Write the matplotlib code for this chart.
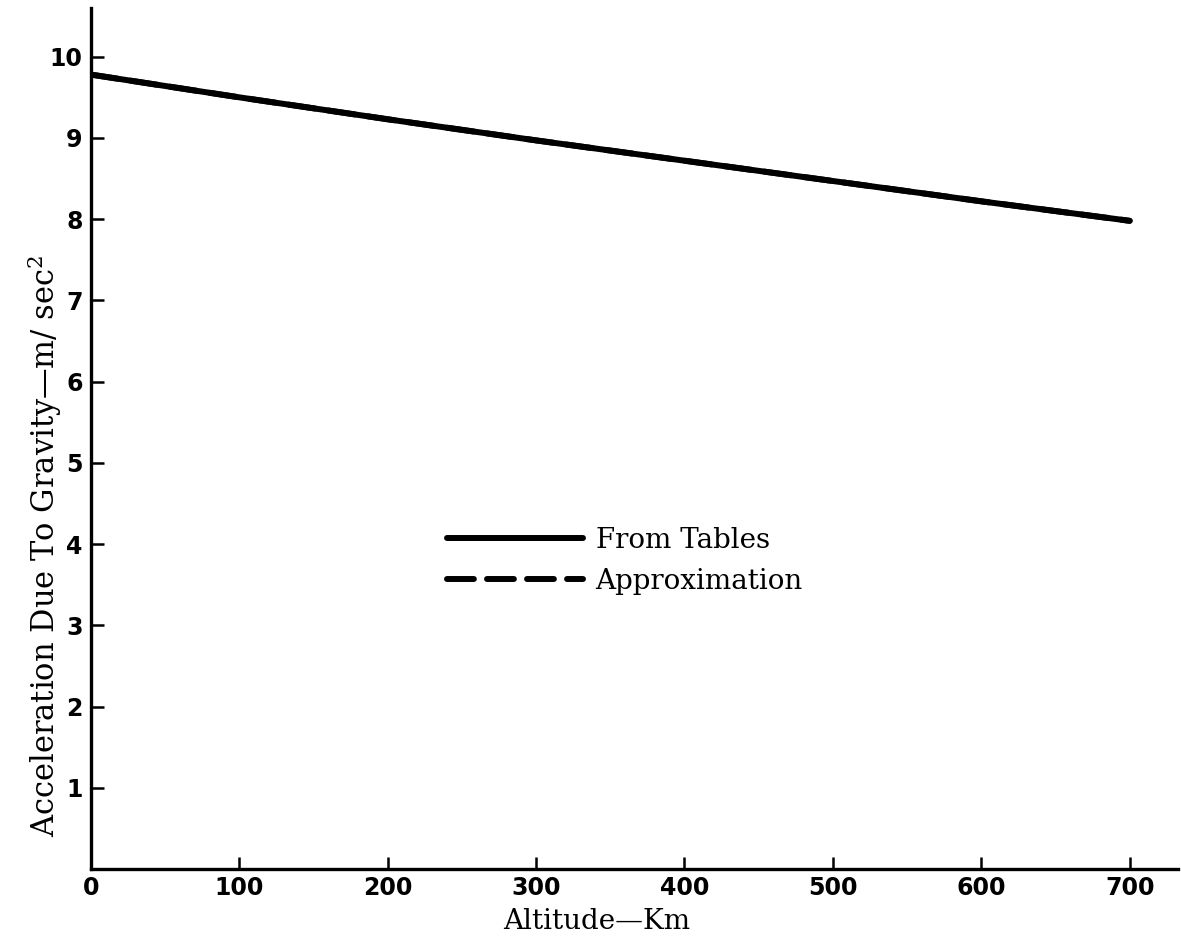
import numpy as np
import matplotlib
matplotlib.use("Agg")
import matplotlib.pyplot as plt

plt.rcParams['mathtext.fontset'] = 'dejavuserif'

# data
altitude_km = [0, 100, 200, 300, 400, 500, 600, 700]
g_tables = [9.78, 9.50, 9.23, 8.97, 8.72, 8.47, 8.22, 7.98]
g_approx = [9.78, 9.50, 9.23, 8.97, 8.72, 8.47, 8.22, 7.98]

x_ticks = [0, 100, 200, 300, 400, 500, 600, 700]
y_ticks = [1, 2, 3, 4, 5, 6, 7, 8, 9, 10]

fig = plt.figure(figsize=(11.81, 9.40), dpi=100)
ax = fig.add_axes([0.077, 0.0755, 0.9205, 0.916])

ax.plot(altitude_km, g_approx, color='black', lw=4.3, ls=(0, (4.5, 2.2)),
        label='Approximation', dash_capstyle='round', zorder=2)
ax.plot(altitude_km, g_tables, color='black', lw=4.3,
        label='From Tables', solid_capstyle='round', zorder=3)

ax.set_xlim(0, 732.6)
ax.set_ylim(0, 10.6)
ax.set_xticks(x_ticks)
ax.set_yticks(y_ticks)

for s in ['top', 'right']:
    ax.spines[s].set_visible(False)
for s in ['left', 'bottom']:
    ax.spines[s].set_linewidth(2.4)

ax.tick_params(direction='in', length=9, width=1.8, labelsize=17)
ax.tick_params(axis='x', pad=5)
ax.tick_params(axis='y', pad=6)
for lbl in ax.get_xticklabels() + ax.get_yticklabels():
    lbl.set_fontweight('bold')
ax.xaxis.get_major_ticks()[0].tick1line.set_visible(False)

ax.set_xlabel('Altitude\u2014Km', family='DejaVu Serif', fontsize=20)
ax.xaxis.set_label_coords(0.465, -0.045)
ax.set_ylabel('Acceleration Due To Gravity\u2014m/ sec$^{2}$',
              family='DejaVu Serif', fontsize=22)
ax.yaxis.set_label_coords(-0.025, 0.375)

h, l = ax.get_legend_handles_labels()
leg = ax.legend([h[1], h[0]], [l[1], l[0]], loc='upper left',
                bbox_to_anchor=(0.3275, 0.397), frameon=False,
                prop={'family': 'DejaVu Serif', 'size': 20},
                handlelength=4.9, handletextpad=0.45, labelspacing=0.5,
                borderpad=0, borderaxespad=0)

fig.savefig('out.png', dpi=100)
